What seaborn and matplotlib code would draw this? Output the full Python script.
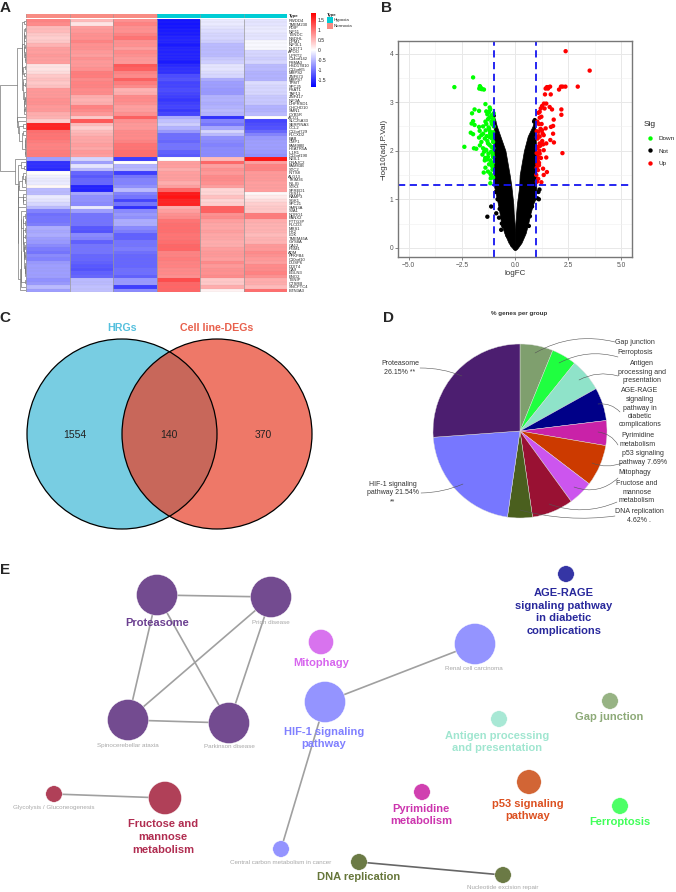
import numpy as np
import pandas as pd
import matplotlib
matplotlib.use('Agg')
import matplotlib.pyplot as plt
from matplotlib.colors import LinearSegmentedColormap, ListedColormap
from matplotlib.patches import Circle, Rectangle
import seaborn as sns

sns.set_style('white')
plt.rcParams['font.family'] = ['Liberation Sans', 'DejaVu Sans']

W, H = 676, 892

# ---- panel A: expression values, 3 normoxia + 3 hypoxia
upper_rows = [
    [0.9, 0.5, 0.8, -1.7, -0.15, -0.2], [0.85, 0.2, 0.9, -1.7, -0.15, -0.2],
    [0.5, 0.7, 0.8, -1.7, -0.2, -0.15], [0.5, 0.75, 0.8, -1.65, -0.25, -0.15],
    [0.4, 0.8, 0.9, -1.65, -0.3, -0.2], [0.35, 0.8, 1.0, -1.6, -0.3, -0.2],
    [0.4, 0.9, 0.8, -1.6, -0.35, -0.05], [0.55, 0.8, 0.8, -1.65, -0.5, -0.05],
    [0.7, 0.8, 0.7, -1.6, -0.5, -0.05], [0.7, 0.75, 0.85, -1.6, -0.5, -0.3],
    [0.75, 0.7, 0.8, -1.6, -0.5, -0.3], [0.7, 0.8, 0.75, -1.6, -0.4, -0.35],
    [0.7, 0.75, 0.75, -1.65, -0.35, -0.3], [0.2, 0.75, 1.2, -1.55, -0.2, -0.5],
    [0.2, 0.8, 1.15, -1.5, -0.2, -0.5], [0.25, 0.95, 0.9, -1.5, -0.25, -0.55],
    [0.4, 0.95, 0.85, -1.3, -0.3, -0.55], [0.45, 0.85, 1.15, -1.25, -0.6, -0.55],
    [0.4, 0.9, 0.95, -1.35, -0.7, -0.25], [0.45, 0.9, 0.85, -1.35, -0.7, -0.3],
    [0.75, 0.85, 0.55, -1.3, -0.75, -0.3], [0.75, 0.85, 0.6, -1.35, -0.75, -0.3],
    [0.75, 0.6, 0.85, -1.4, -0.55, -0.4], [0.8, 0.55, 0.85, -1.45, -0.55, -0.4],
    [0.8, 0.6, 0.8, -1.4, -0.6, -0.4], [0.75, 0.9, 0.7, -1.35, -0.55, -0.55],
    [0.75, 0.85, 0.7, -1.45, -0.5, -0.55], [0.6, 0.75, 0.8, -1.35, -0.55, -0.5],
    [0.55, 0.4, 1.15, -0.6, -1.5, 0.0], [0.35, 1.2, 0.8, -0.45, -0.9, -1.35],
    [1.6, 0.5, 0.75, -0.35, -1.0, -1.3], [1.6, 0.35, 0.75, -0.55, -0.65, -1.25],
    [1.05, 0.5, 0.85, -0.75, -0.3, -1.1], [1.0, 0.55, 0.85, -1.05, -0.5, -0.9],
    [1.0, 0.65, 0.85, -1.05, -0.8, -0.75], [0.95, 0.65, 0.9, -1.1, -0.85, -0.7],
    [0.9, 0.7, 1.0, -1.0, -0.9, -0.7], [0.9, 0.65, 1.0, -1.0, -0.85, -0.7],
    [0.95, 0.75, 1.05, -1.15, -0.85, -0.75], [0.95, 0.7, 1.05, -1.2, -0.85, -0.8],
]
lower_rows = [
    [-0.7, -0.3, -1.4, 0.0, 0.5, 1.7], [-1.5, -0.7, 0.0, 0.7, 1.1, 0.7],
    [-1.5, -0.2, -0.55, 0.7, 0.7, 0.9], [-1.55, -0.5, -0.5, 0.6, 0.8, 0.9],
    [0.0, -1.1, -1.4, 0.7, 0.75, 0.75], [-0.1, -1.2, -1.0, 0.7, 0.85, 0.75],
    [-0.15, -1.1, -0.9, 0.7, 0.85, 0.75], [-0.15, -1.1, -0.9, 0.6, 0.8, 0.7],
    [0.05, -1.6, -0.8, 0.7, 0.7, 0.7], [-0.5, -1.6, -0.5, 1.1, 0.3, 0.7],
    [-0.5, -0.65, -0.9, 1.65, 0.3, 0.05], [-0.15, -0.8, -1.0, 1.7, 0.45, 0.15],
    [-0.2, -0.8, -1.35, 1.6, 0.3, 0.25], [-0.3, -0.85, -1.0, 1.6, 0.35, 0.35],
    [-0.5, -0.15, -1.5, 0.6, 1.15, 0.4], [-0.9, -0.7, -0.85, 0.7, 1.15, 0.4],
    [-1.05, -1.0, -0.75, 0.8, 0.8, 0.95], [-1.0, -1.0, -0.8, 0.85, 0.85, 0.95],
    [-1.0, -1.0, -0.6, 1.0, 0.7, 0.6], [-0.95, -1.0, -0.6, 1.05, 0.65, 0.55],
    [-0.6, -1.2, -0.85, 1.05, 0.65, 0.55], [-0.65, -1.25, -0.95, 1.05, 0.7, 0.55],
    [-0.6, -0.85, -1.15, 1.0, 0.65, 0.5], [-0.7, -0.9, -1.15, 1.0, 0.65, 0.55],
    [-0.75, -1.15, -1.0, 1.05, 0.6, 0.55], [-0.85, -1.0, -1.0, 1.1, 0.6, 0.75],
    [-0.95, -1.0, -0.95, 1.1, 0.7, 0.75], [-1.0, -1.0, -1.05, 0.9, 0.75, 0.85],
    [-0.85, -1.1, -1.1, 0.9, 0.75, 0.8], [-0.9, -1.1, -1.1, 0.95, 0.7, 0.75],
    [-0.75, -1.15, -1.1, 0.9, 0.85, 0.7], [-0.7, -1.2, -1.1, 0.9, 0.75, 0.85],
    [-0.7, -1.25, -1.05, 0.85, 0.8, 0.85], [-0.7, -1.15, -1.05, 0.85, 0.8, 0.9],
    [-0.7, -1.1, -1.15, 0.8, 0.85, 0.8], [-0.8, -0.5, -0.75, 1.3, 0.4, 0.6],
    [-0.75, -0.5, -0.75, 1.1, 0.4, 0.6], [-0.5, -0.45, -1.4, 1.1, 0.6, 0.5],
    [-0.7, -0.45, -0.85, 1.1, 0.1, 1.05],
]
upper_genes = ['RWDD4', 'TMEM230', 'PDIP', 'NIF11', 'TXNDC', 'NSDHL', 'DPM1', 'NIF3L1', 'NUDT1',
               'APOO', 'UPRT2', 'C14orf142', 'PSMA3', 'HSD17B10', 'C12orf65', 'MRPS2', 'ZNF673',
               'MRPS7', 'TPMT', 'SPC25', 'PSAT1', 'TAF13', 'ZNF417', 'NIF3A', 'DHFRSD1',
               'CHCHD10', 'SMN1', 'CYB5R', 'ACO1', 'SLC25A33', 'SERPINA3', 'CCL2', 'C12orf729',
               'PLCXD2', 'EAB', 'CMP1', 'FAM98B', 'HEATR5A', 'IL1R1', 'C12orf190']
lower_genes = ['NEIL1', 'DNAJC2', 'FAM83B', 'STC2', 'INTS8', 'ALG13', 'TRIM36', 'INLIG', 'STK3',
               'SPRED1', 'CES1L', 'RAMP3', 'SGK1', 'SPC21', 'SMN3A', 'SJA1', 'NDRG1', 'PANX2',
               'PTTG3P', 'PLCD3', 'MRS1', 'HK2', 'LDK', 'TMEM45A', 'GYS8A', 'CA12', 'PGM1',
               'ADM', 'PFKFB4', 'C10orf10', 'DUSP6', 'DDIT4', 'CA9', 'EGLN3', 'ENO2', 'TXNIP',
               'CTSRB', 'SNCPTC4', 'BTN3A3']
sample_type = [1, 1, 1, 0, 0, 0]
cbar_ticks = [-1.5, -1, -0.5, 0, 0.5, 1, 1.5]

# ---- panel B: volcano points
down_fc = [-2.85, -1.97, -1.65, -1.61, -1.54, -1.46, -1.58, -1.68, -1.39, -1.90, -1.69, -1.35, -1.19,
           -1.16, -2.02, -1.30, -1.0, -1.11, -1.22, -1.97, -2.04, -1.90, -1.69, -1.66, -2.08, -1.97,
           -1.39, -1.50, -1.35, -1.11, -1.27, -1.03, -1.38, -1.22, -1.50, -1.58, -1.69, -1.42, -1.19,
           -1.58, -1.27, -2.38, -1.93, -1.82, -1.65, -1.50, -1.35, -1.11, -1.03, -1.53, -1.27, -1.03,
           -1.42, -1.11, -1.39, -1.47, -1.27, -1.16, -1.06, -1.14, -1.16, -1.03, -1.0, -1.06, -1.18,
           -1.30, -1.45, -1.08, -1.2, -1.33, -1.12, -1.25, -1.05, -1.15, -1.38, -1.02, -1.1, -1.22,
           -1.04, -1.3, -1.09, -1.17, -1.02, -1.24, -1.07, -1.4, -1.13, -1.03, -1.2, -1.06]
down_p = [3.31, 3.51, 3.33, 3.30, 3.27, 3.26, 3.27, 3.28, 2.96, 2.85, 2.82, 2.81, 2.89,
          2.85, 2.77, 2.75, 2.77, 2.73, 2.80, 2.61, 2.56, 2.53, 2.49, 2.41, 2.37, 2.34,
          2.60, 2.50, 2.55, 2.60, 2.65, 2.66, 2.42, 2.45, 2.35, 2.32, 2.27, 2.25, 2.28,
          2.18, 2.15, 2.08, 2.05, 2.04, 2.11, 2.05, 2.01, 2.08, 2.18, 1.92, 1.87, 1.87,
          1.80, 1.73, 1.65, 1.55, 1.57, 1.53, 1.61, 1.43, 1.33, 2.38, 2.50, 2.30, 2.40,
          2.20, 1.98, 2.25, 2.12, 2.30, 1.98, 1.94, 1.90, 1.80, 2.02, 2.05, 1.70, 1.72,
          1.75, 1.82, 2.55, 2.35, 2.62, 2.48, 1.68, 1.85, 1.50, 1.45, 2.68, 1.95]
up_fc = [2.38, 3.51, 2.95, 2.37, 2.16, 2.24, 2.07, 1.65, 1.58, 1.50, 1.44, 1.55, 1.41, 1.68, 1.36,
         1.47, 1.27, 1.21, 1.63, 1.74, 2.18, 2.18, 1.39, 1.16, 1.10, 1.82, 1.79, 1.69, 1.24, 1.16,
         1.44, 1.27, 1.11, 1.79, 1.35, 1.16, 1.66, 1.83, 1.47, 1.32, 1.16, 1.08, 2.23, 1.35, 1.47,
         1.16, 1.08, 1.13, 1.32, 1.50, 1.35, 1.08, 1.0, 1.24, 1.03, 1.05, 1.2, 1.12, 1.02, 1.28,
         1.06, 1.18, 1.04, 1.15, 1.02, 1.22, 1.07, 1.3, 1.1, 1.03, 1.13, 1.05, 1.25, 1.02, 1.09]
up_p = [4.05, 3.65, 3.32, 3.32, 3.32, 3.32, 3.26, 3.32, 3.31, 3.31, 3.28, 3.28, 3.16, 3.16, 2.97,
        2.97, 2.92, 2.87, 2.90, 2.85, 2.85, 2.74, 2.87, 2.80, 2.78, 2.64, 2.51, 2.49, 2.70, 2.68,
        2.46, 2.42, 2.39, 2.35, 2.32, 2.29, 2.22, 2.17, 2.15, 2.13, 2.15, 2.08, 1.95, 2.01, 1.86,
        1.94, 1.87, 1.70, 1.63, 1.56, 1.50, 1.60, 1.50, 1.35, 1.36, 2.60, 2.45, 2.55, 2.40, 2.20,
        2.25, 2.10, 2.05, 2.0, 1.95, 1.85, 1.80, 2.35, 2.30, 2.28, 1.75, 1.72, 2.55, 1.65, 1.42]
# outline of the solid black "Not" cloud, logFC at each -log10 p
not_y_left = [-0.02, 0.1, 0.3, 0.5, 0.7, 0.9, 1.1, 1.3, 1.5, 2.0, 2.5, 2.7]
not_outer_left = [-0.1, -0.3, -0.5, -0.65, -0.72, -0.8, -0.9, -1.0, -1.0, -1.0, -1.0, -1.0]
not_inner_left = [0.0, 0.0, 0.0, -0.02, -0.06, -0.08, -0.13, -0.18, -0.25, -0.45, -0.85, -0.98]
not_y_right = [-0.02, 0.1, 0.3, 0.5, 0.7, 0.9, 1.0, 1.2, 1.3, 1.5, 2.0, 2.3, 2.5, 2.65]
not_outer_right = [0.1, 0.3, 0.5, 0.62, 0.72, 0.85, 0.95, 1.0, 1.0, 1.0, 0.99, 0.97, 0.95, 0.95]
not_inner_right = [0.0, 0.0, 0.0, 0.02, 0.05, 0.09, 0.12, 0.18, 0.2, 0.22, 0.42, 0.6, 0.82, 0.92]
not_fc = [-1.3, -1.12, -0.88, -0.75, -0.65, 1.12, 1.15, 1.1, 1.05, -1.0, -0.98, 0.93, 0.9, -0.72,
          -0.62, -0.55, 0.7, 0.65, 0.8, 0.87, -0.82, -0.9, 0.02, -0.12, 0.12, -0.35, 0.35]
not_p = [0.64, 0.85, 0.71, 0.62, 0.37, 1.0, 1.2, 1.15, 1.02, 2.72, 2.6, 2.63, 2.6, 0.8,
         0.5, 0.45, 0.65, 0.45, 0.85, 1.0, 1.0, 1.15, -0.02, 0.05, 0.05, 0.25, 0.28]

# ---- panel D
pie_names = ['Gap junction', 'Ferroptosis', 'Antigen processing and presentation',
             'AGE-RAGE signaling pathway in diabetic complications', 'Pyrimidine metabolism',
             'p53 signaling pathway', 'Mitophagy', 'Fructose and mannose metabolism',
             'DNA replication', 'HIF-1 signaling pathway', 'Proteasome']
pie_pct = [6.15, 4.62, 6.15, 6.15, 4.62, 7.69, 4.62, 7.69, 4.62, 21.54, 26.15]
pie_colors = ['#7F9F6E', '#1FFF40', '#8FE3C9', '#000088', '#C922A8', '#CC3A00', '#CC55EE',
              '#991133', '#4A5F1E', '#7777FF', '#4C1E70']
pie_labels = ['Gap junction', 'Ferroptosis', 'Antigen\nprocessing and\npresentation',
              'AGE-RAGE\nsignaling\npathway in\ndiabetic\ncomplications', 'Pyrimidine\nmetabolism',
              'p53 signaling\npathway 7.69%', 'Mitophagy', 'Fructose and\nmannose\nmetabolism',
              'DNA replication\n4.62% .', 'HIF-1 signaling\npathway 21.54%\n**', 'Proteasome\n26.15% **']
pie_label_xy = [(635, 342), (635, 352), (642, 372), (640, 408), (638, 440), (643, 458),
                (635, 473), (637, 492), (639, 516), (393, 493), (400, 368)]
pie_line_from = [(615, 342), (618, 357), (618, 376), (620, 412), (618, 445), (622, 463),
                 (618, 478), (617, 502), (615, 516), (421, 493), (420, 368)]
pie_line_to = [(535, 353), (559, 363), (579, 380), (598, 404), (598, 432), (592, 463),
               (574, 487), (549, 504), (520, 510), (463, 484), (462, 376)]
pie_line_bend = [0.2, 0.2, 0.2, 0.25, 0.25, -0.2, -0.3, -0.2, -0.1, 0.1, -0.1]

# ---- panel E network
node_names = ['Proteasome', 'Prion disease', 'Spinocerebellar ataxia', 'Parkinson disease', 'Mitophagy',
               'HIF-1', 'Glycolysis', 'Fructose', 'Central carbon', 'Renal cell carcinoma', 'AGE-RAGE',
               'Gap junction', 'Antigen', 'p53', 'Pyrimidine', 'Ferroptosis', 'DNA replication',
               'Nucleotide excision repair']
node_x = [157, 271, 128, 229, 321, 325, 54, 165, 281, 475, 566, 610, 499, 529, 422, 620, 359, 503]
node_y = [595, 597, 720, 723, 642, 702, 794, 798, 849, 644, 574, 701, 719, 782, 792, 806, 862, 875]
node_size = [41, 41, 41, 41, 25, 41, 16.5, 33, 16.5, 41, 16.5, 16.5, 16.5, 24.5, 16.5, 16.5, 16.5, 16.5]
node_colors = ['#734B90', '#734B90', '#734B90', '#734B90', '#D873EE', '#9494FF', '#B04058', '#B04058',
               '#9494FF', '#9494FF', '#3535A5', '#97B384', '#A8E8D5', '#D26535', '#D040B0', '#4DFF66',
               '#6B7A45', '#6B7A45']
edge_pairs = [(0, 1), (0, 2), (0, 3), (1, 2), (1, 3), (2, 3), (5, 9), (5, 8), (6, 7), (16, 17)]
big_labels = ['Proteasome', 'Mitophagy', 'HIF-1 signaling\npathway', 'Fructose and\nmannose\nmetabolism',
              'AGE-RAGE\nsignaling pathway\nin diabetic\ncomplications', 'Gap junction',
              'Antigen processing\nand presentation', 'p53 signaling\npathway', 'Pyrimidine\nmetabolism',
              'Ferroptosis', 'DNA replication']
big_xy = [(157, 623), (321, 663), (324, 738), (163, 837), (564, 612), (609, 717), (497, 742),
          (528, 810), (421, 815), (620, 822), (359, 877)]
big_colors = ['#6B3F90', '#D765EE', '#8080FF', '#B02C50', '#28289C', '#8DAA78', '#A0E6D0',
              '#DC5020', '#CC35AE', '#40FF58', '#66763A']
small_labels = ['Prion disease', 'Spinocerebellar ataxia', 'Parkinson disease', 'Renal cell carcinoma',
                'Glycolysis / Gluconeogenesis', 'Central carbon metabolism in cancer',
                'Nucleotide excision repair']
small_xy = [(271, 622), (128, 745), (229, 747), (474, 669), (54, 807), (281, 862), (503, 888)]


def px_axes(fig, x0, y0, x1, y1):
    # axes from pixel box, y measured from the top
    return fig.add_axes([x0 / W, 1 - y1 / H, (x1 - x0) / W, (y1 - y0) / H])


def draw_dendro(ax, mat):
    # merge neighbouring rows only, so leaf order stays the same as the heatmap
    nodes = [(i + 0.5, 0.0, mat[i], 1) for i in range(len(mat))]
    top = 0
    segs = []
    while len(nodes) > 1:
        d = [np.linalg.norm(nodes[i][2] - nodes[i + 1][2]) for i in range(len(nodes) - 1)]
        i = int(np.argmin(d))
        a, b = nodes[i], nodes[i + 1]
        h = max(d[i], a[1], b[1])
        segs.append(([a[1], h, h, b[1]], [a[0], a[0], b[0], b[0]]))
        n = a[3] + b[3]
        nodes[i:i + 2] = [((a[0] + b[0]) / 2, h, (a[2] * a[3] + b[2] * b[3]) / n, n)]
        top = h
    for xs, ys in segs:
        ax.plot(xs, ys, color='#777777', lw=0.5, solid_joinstyle='miter')
    ax.set_xlim(top, 0)
    ax.set_ylim(len(mat), 0)
    ax.axis('off')


fig = plt.figure(figsize=(W / 100, H / 100), dpi=100)
ax0 = fig.add_axes([0, 0, 1, 1])
ax0.patch.set_alpha(0)

# ---- A
expr = np.array(upper_rows + lower_rows)
genes = upper_genes + lower_genes
bwr = LinearSegmentedColormap.from_list('bwr_r', ['#0000FF', '#FFFFFF', '#FF0000'])
hm = px_axes(fig, 26, 19, 287, 292)
cax = px_axes(fig, 311, 13, 316, 87)
sns.heatmap(pd.DataFrame(expr, index=genes), ax=hm, cmap=bwr, vmin=-1.85, vmax=1.85, cbar_ax=cax,
            cbar_kws={'ticks': cbar_ticks}, linewidths=0,
            xticklabels=False, yticklabels=genes)
# pheatmap cell borders: clear between columns, only faint between rows
hm.vlines(range(7), 0, len(genes), color='#999999', lw=0.5)
hm.hlines(range(len(genes) + 1), 0, 6, color='#999999', lw=0.2, alpha=0.35)
hm.yaxis.tick_right()
hm.tick_params(axis='y', length=0, pad=1, labelsize=3, labelrotation=0)
cax.tick_params(length=0, pad=1.5, labelsize=3.6)
cax.set_yticklabels(['-1.5', '-1', '-0.5', '0', '0.5', '1', '1.5'])
anno = px_axes(fig, 26, 13.5, 287, 17.5)
sns.heatmap(np.array([sample_type]), ax=anno, cmap=ListedColormap(['#00CDD5', '#F88C84']), cbar=False,
            xticklabels=False, yticklabels=False, linewidths=0)
anno.vlines(range(7), 0, 1, color='#999999', lw=0.4)
dend = px_axes(fig, 0, 19, 26, 292)
draw_dendro(dend, expr)

ax0.text(289, 15.5, 'Type', fontsize=3.2, fontweight='bold', va='center')
ax0.text(327, 14.7, 'Type', fontsize=3.2, fontweight='bold', va='center')
ax0.add_patch(Rectangle((327, 17), 6, 6, color='#00CDD5', lw=0))
ax0.add_patch(Rectangle((327, 23), 6, 6, color='#F88C84', lw=0))
ax0.text(334, 20, 'Hypoxia', fontsize=3.2, va='center')
ax0.text(334, 26, 'Normoxia', fontsize=3.2, va='center')

# ---- B
vol = px_axes(fig, 398, 41, 632, 257)
vol.set_axisbelow(True)
vol.fill_betweenx(not_y_left, not_outer_left, not_inner_left, color='black', lw=0.5)
vol.fill_betweenx(not_y_right, not_inner_right, not_outer_right, color='black', lw=0.5)
df = pd.concat([
    pd.DataFrame({'logFC': not_fc, 'p': not_p, 'Sig': 'Not'}),
    pd.DataFrame({'logFC': down_fc, 'p': down_p, 'Sig': 'Down'}),
    pd.DataFrame({'logFC': up_fc, 'p': up_p, 'Sig': 'Up'}),
])
sns.scatterplot(data=df, x='logFC', y='p', hue='Sig', hue_order=['Down', 'Not', 'Up'],
                palette={'Down': '#00FF00', 'Not': 'black', 'Up': '#FF0000'}, s=10, linewidth=0, ax=vol)
vol.axvline(-1, color='#1515F0', lw=1.3, ls=(0, (4, 2.5)))
vol.axvline(1, color='#1515F0', lw=1.3, ls=(0, (4, 2.5)))
vol.axhline(1.301, color='#1515F0', lw=1.3, ls=(0, (4, 2.5)))
vol.set_xlim(-5.5, 5.5)
vol.set_ylim(-0.19, 4.26)
vol.set_xticks([-5, -2.5, 0, 2.5, 5])
vol.set_xticklabels(['−5.0', '−2.5', '0.0', '2.5', '5.0'])
vol.set_yticks([0, 1, 2, 3, 4])
vol.set_xticks([-3.75, -1.25, 1.25, 3.75], minor=True)
vol.set_yticks([0.5, 1.5, 2.5, 3.5], minor=True)
vol.grid(which='major', color='#e8e8e8', lw=0.7)
vol.grid(which='minor', color='#f0f0f0', lw=0.4)
vol.tick_params(which='major', length=2, width=0.5, color='#555555', labelsize=4.8, labelcolor='#555555', pad=1.5,
                bottom=True, left=True)
vol.tick_params(which='minor', length=0)
vol.set_xlabel('logFC', fontsize=5.8, labelpad=1, color='#333333')
vol.set_ylabel('−log10(adj.P.Val)', fontsize=5.9, labelpad=1.5, color='#333333')
for s in vol.spines.values():
    s.set_color('#777777')
    s.set_linewidth(1)
sns.move_legend(vol, 'upper left', bbox_to_anchor=(1.05, 0.63), frameon=False, title='Sig',
                fontsize=4.6, title_fontsize=6, labelspacing=1.15, handletextpad=0.25, markerscale=1.0,
                alignment='left', borderaxespad=0, borderpad=0)

# ---- C
left_c = Circle((122, 434), 95, fc='#78CDE2', ec='none')
right_c = Circle((217, 434), 95, fc='#EE7868', ec='none')
ax0.add_patch(left_c)
ax0.add_patch(right_c)
both = Circle((217, 434), 95, fc='#C8675A', ec='none')
ax0.add_patch(both)
both.set_clip_path(left_c)
ax0.add_patch(Circle((122, 434), 95, fc='none', ec='black', lw=0.9))
ax0.add_patch(Circle((217, 434), 95, fc='none', ec='black', lw=0.9))
ax0.text(122, 328, 'HRGs', color='#55C0DE', fontsize=7.7, fontweight='bold', ha='center', va='center')
ax0.text(217, 328, 'Cell line-DEGs', color='#E8604C', fontsize=7.7, fontweight='bold', ha='center', va='center')
for tx, txt in zip([75, 169, 263], ['1554', '140', '370']):
    ax0.text(tx, 435, txt, fontsize=7.5, ha='center', va='center', color='#222222')

# ---- D
pie = px_axes(fig, 433, 344, 607, 518)
pie.pie(pie_pct, colors=pie_colors, startangle=90, counterclock=False, radius=1,
        wedgeprops={'edgecolor': '#dddddd', 'linewidth': 0.3})
pie.set_xlim(-1, 1)
pie.set_ylim(-1, 1)
ax0.text(519, 314, '% genes per group', fontsize=4.5, fontweight='bold', ha='center', va='center', color='#333333')
for lab, xy, a, b, rad in zip(pie_labels, pie_label_xy, pie_line_from, pie_line_to, pie_line_bend):
    ax0.text(xy[0], xy[1], lab, fontsize=5, ha='center', va='center', color='#333333', linespacing=1.3, zorder=6)
    ax0.annotate('', xy=b, xytext=a, zorder=5,
                 arrowprops=dict(arrowstyle='-', color='#555555', lw=0.4, connectionstyle=f'arc3,rad={rad}',
                                 shrinkA=0, shrinkB=0))
ax0.set_zorder(3)

# ---- E
for i, j in edge_pairs:
    dark = (i, j) == (16, 17)
    ax0.plot([node_x[i], node_x[j]], [node_y[i], node_y[j]], color='#666666' if dark else '#a0a0a0',
             lw=1.2, zorder=1)
sns.scatterplot(x=node_x, y=node_y, hue=node_names, palette=dict(zip(node_names, node_colors)),
                size=node_names, sizes={n: (d * 0.72) ** 2 for n, d in zip(node_names, node_size)},
                linewidth=0.3, edgecolor='white', legend=False, ax=ax0, zorder=2)
for lab, xy, col in zip(big_labels, big_xy, big_colors):
    ax0.text(xy[0], xy[1], lab, color=col, fontsize=8, fontweight='bold', ha='center', va='center',
             linespacing=1.35, zorder=3)
for lab, xy in zip(small_labels, small_xy):
    ax0.text(xy[0], xy[1], lab, color='#a8a8a8', fontsize=4.5, ha='center', va='center', zorder=3)

# panel letters
for letter, lx, ly in [('A', 5, 8), ('B', 387, 8), ('C', 5, 318), ('D', 389, 318), ('E', 5, 570)]:
    ax0.text(lx, ly, letter, fontsize=11, fontweight='bold', ha='center', va='center')

ax0.set_xlim(0, W)
ax0.set_ylim(H, 0)
ax0.axis('off')

fig.savefig('out.png', dpi=100)
